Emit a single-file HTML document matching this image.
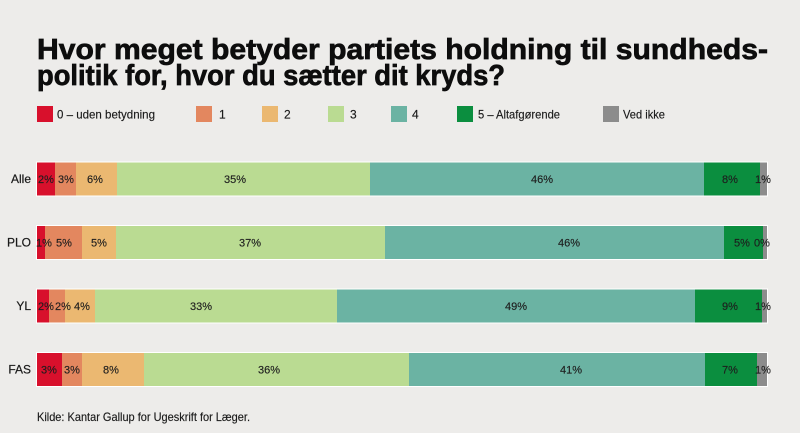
<!DOCTYPE html>
<html>
<head>
<meta charset="utf-8">
<style>
  html, body { margin: 0; padding: 0; background: #edecea; }
  body { width: 800px; height: 433px; overflow: hidden; }
  svg { display: block; }
  text { font-family: "Liberation Sans", "DejaVu Sans", sans-serif; fill: #151515; }
  .t { font-weight: bold; font-size: 29px; fill: #0d0d0d; stroke: #0d0d0d; stroke-width: 0.7px; }
  .lg { font-size: 12px; fill: #1a1a1a; stroke: #1a1a1a; stroke-width: 0.15px; }
  .rl { font-size: 12px; fill: #1a1a1a; text-anchor: end; stroke: #1a1a1a; stroke-width: 0.2px; }
  .pl { font-size: 11px; fill: #1e1e1e; text-anchor: middle; stroke: #1e1e1e; stroke-width: 0.15px; }
  .src { font-size: 12px; fill: #1a1a1a; stroke: #1a1a1a; stroke-width: 0.15px; }
</style>
</head>
<body>
<svg width="800" height="433" viewBox="0 0 800 433" xmlns="http://www.w3.org/2000/svg">
  <rect x="0" y="0" width="800" height="433" fill="#edecea"/>

  <!-- Title -->
  <text class="t" x="37" y="59" textLength="731" lengthAdjust="spacingAndGlyphs">Hvor meget betyder partiets holdning til sundheds-</text>
  <text class="t" x="37" y="85" textLength="468" lengthAdjust="spacingAndGlyphs">politik for, hvor du sætter dit kryds?</text>

  <!-- Legend -->
  <rect x="37" y="106" width="16" height="16" fill="#d8102c"/>
  <text class="lg" x="57" y="118.5" textLength="98" lengthAdjust="spacingAndGlyphs">0 – uden betydning</text>
  <rect x="196" y="106" width="16" height="16" fill="#e3875f"/>
  <text class="lg" x="219" y="118.5">1</text>
  <rect x="262" y="106" width="16" height="16" fill="#ebb871"/>
  <text class="lg" x="284" y="118.5">2</text>
  <rect x="328" y="106" width="16" height="16" fill="#badb92"/>
  <text class="lg" x="350" y="118.5">3</text>
  <rect x="391" y="106" width="16" height="16" fill="#6bb3a3"/>
  <text class="lg" x="412" y="118.5">4</text>
  <rect x="457" y="106" width="16" height="16" fill="#0b8e3f"/>
  <text class="lg" x="478" y="118.5" textLength="82" lengthAdjust="spacingAndGlyphs">5 – Altafgørende</text>
  <rect x="603" y="106" width="16" height="16" fill="#8c8c8c"/>
  <text class="lg" x="623" y="118.5" textLength="42" lengthAdjust="spacingAndGlyphs">Ved ikke</text>

  <!-- Bar: Alle -->
  <rect x="36" y="161.5" width="732" height="35" fill="#ffffff"/>
  <rect x="37" y="162.5" width="18" height="33" fill="#d8102c"/>
  <rect x="55" y="162.5" width="21" height="33" fill="#e3875f"/>
  <rect x="76" y="162.5" width="41" height="33" fill="#ebb871"/>
  <rect x="117" y="162.5" width="253" height="33" fill="#badb92"/>
  <rect x="370" y="162.5" width="334" height="33" fill="#6bb3a3"/>
  <rect x="704" y="162.5" width="56" height="33" fill="#0b8e3f"/>
  <rect x="760" y="162.5" width="7" height="33" fill="#8c8c8c"/>
  <text class="rl" x="31" y="183">Alle</text>
  <text class="pl" x="46" y="183">2%</text>
  <text class="pl" x="66" y="183">3%</text>
  <text class="pl" x="95" y="183">6%</text>
  <text class="pl" x="235" y="183">35%</text>
  <text class="pl" x="542" y="183">46%</text>
  <text class="pl" x="730" y="183">8%</text>
  <text class="pl" x="763" y="183">1%</text>

  <!-- Bar: PLO -->
  <rect x="36" y="225" width="732" height="35" fill="#ffffff"/>
  <rect x="37" y="226" width="8" height="33" fill="#d8102c"/>
  <rect x="45" y="226" width="37" height="33" fill="#e3875f"/>
  <rect x="82" y="226" width="34" height="33" fill="#ebb871"/>
  <rect x="116" y="226" width="269" height="33" fill="#badb92"/>
  <rect x="385" y="226" width="339" height="33" fill="#6bb3a3"/>
  <rect x="724" y="226" width="39" height="33" fill="#0b8e3f"/>
  <rect x="763" y="226" width="4" height="33" fill="#8c8c8c"/>
  <text class="rl" x="31" y="246.5">PLO</text>
  <text class="pl" x="44" y="246.5">1%</text>
  <text class="pl" x="64" y="246.5">5%</text>
  <text class="pl" x="99" y="246.5">5%</text>
  <text class="pl" x="250" y="246.5">37%</text>
  <text class="pl" x="569" y="246.5">46%</text>
  <text class="pl" x="742" y="246.5">5%</text>
  <text class="pl" x="762" y="246.5">0%</text>

  <!-- Bar: YL -->
  <rect x="36" y="288.5" width="732" height="35" fill="#ffffff"/>
  <rect x="37" y="289.5" width="12" height="33" fill="#d8102c"/>
  <rect x="49" y="289.5" width="16" height="33" fill="#e3875f"/>
  <rect x="65" y="289.5" width="30" height="33" fill="#ebb871"/>
  <rect x="95" y="289.5" width="242" height="33" fill="#badb92"/>
  <rect x="337" y="289.5" width="358" height="33" fill="#6bb3a3"/>
  <rect x="695" y="289.5" width="67" height="33" fill="#0b8e3f"/>
  <rect x="762" y="289.5" width="5" height="33" fill="#8c8c8c"/>
  <text class="rl" x="31" y="310">YL</text>
  <text class="pl" x="46" y="310">2%</text>
  <text class="pl" x="63" y="310">2%</text>
  <text class="pl" x="82" y="310">4%</text>
  <text class="pl" x="201" y="310">33%</text>
  <text class="pl" x="516" y="310">49%</text>
  <text class="pl" x="730" y="310">9%</text>
  <text class="pl" x="763" y="310">1%</text>

  <!-- Bar: FAS -->
  <rect x="36" y="352" width="732" height="35" fill="#ffffff"/>
  <rect x="37" y="353" width="25" height="33" fill="#d8102c"/>
  <rect x="62" y="353" width="20" height="33" fill="#e3875f"/>
  <rect x="82" y="353" width="62" height="33" fill="#ebb871"/>
  <rect x="144" y="353" width="265" height="33" fill="#badb92"/>
  <rect x="409" y="353" width="296" height="33" fill="#6bb3a3"/>
  <rect x="705" y="353" width="52" height="33" fill="#0b8e3f"/>
  <rect x="757" y="353" width="10" height="33" fill="#8c8c8c"/>
  <text class="rl" x="31" y="373.5">FAS</text>
  <text class="pl" x="49" y="373.5">3%</text>
  <text class="pl" x="72" y="373.5">3%</text>
  <text class="pl" x="111" y="373.5">8%</text>
  <text class="pl" x="269" y="373.5">36%</text>
  <text class="pl" x="571" y="373.5">41%</text>
  <text class="pl" x="730" y="373.5">7%</text>
  <text class="pl" x="763" y="373.5">1%</text>

  <!-- Source -->
  <text class="src" x="37" y="421" textLength="213" lengthAdjust="spacingAndGlyphs">Kilde: Kantar Gallup for Ugeskrift for Læger.</text>
</svg>
</body>
</html>
